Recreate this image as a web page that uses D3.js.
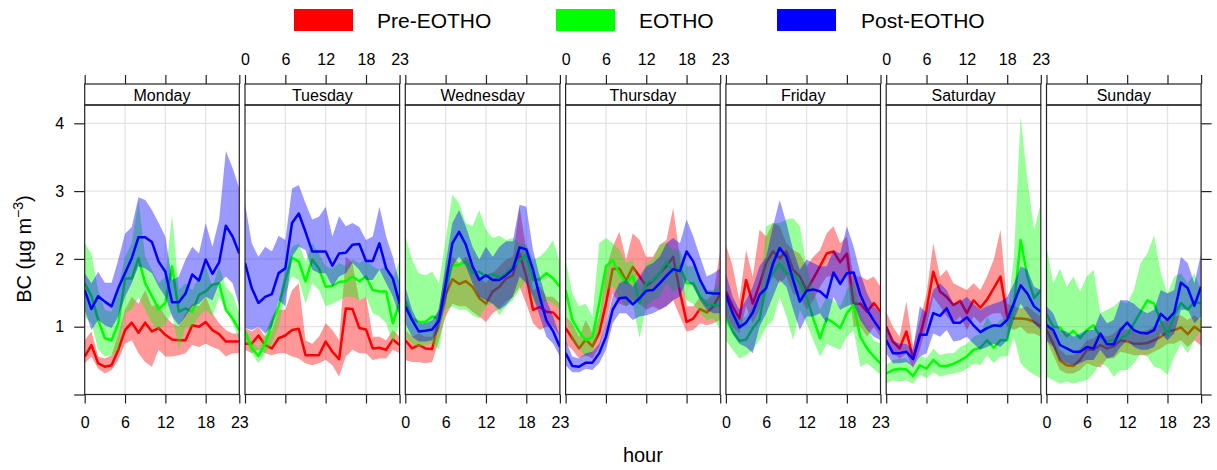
<!DOCTYPE html>
<html>
<head>
<meta charset="utf-8">
<script src="https://cdn.jsdelivr.net/npm/d3@7"></script>
<style>
  body { margin: 0; background: #fff; }
  text { font-family: "Liberation Sans", Arial, sans-serif; fill: #000; }
</style>
</head>
<body>
<svg id="chart" width="1217" height="470"></svg>
<script>
// categories / ticks
const days = ["Monday", "Tuesday", "Wednesday", "Thursday", "Friday", "Saturday", "Sunday"];
const hours = d3.range(24);
const hourTicks = [0, 6, 12, 18, 23];
const yTicks = [0, 1, 2, 3, 4];
const seriesNames = ["Pre-EOTHO", "EOTHO", "Post-EOTHO"];
const seriesColors = ["#ff0000", "#00ff00", "#0000ff"];

// Pre-EOTHO: mean, lower, upper (one row per day, 24 hours)
const preMean = [
  [0.56,0.73,0.46,0.41,0.43,0.66,0.95,1.06,0.91,1.06,0.93,0.98,0.88,0.81,0.80,0.80,1.02,1.00,1.07,0.95,0.89,0.78,0.78,0.78],
  [0.75,0.75,0.87,0.73,0.68,0.83,0.87,0.95,0.97,0.58,0.58,0.58,0.78,0.63,0.52,1.27,1.26,0.98,0.96,0.68,0.69,0.66,0.81,0.73],
  [0.80,0.68,0.73,0.68,0.67,1.10,1.47,1.70,1.63,1.67,1.59,1.42,1.34,1.52,1.59,1.71,1.76,2.08,1.74,1.25,1.29,1.22,1.21,1.10],
  [0.98,0.83,0.68,0.81,0.71,0.91,1.34,1.85,1.86,1.68,1.88,1.74,1.60,1.68,1.79,1.89,2.03,1.52,1.07,1.12,1.26,1.21,1.30,1.49],
  [1.52,1.30,1.12,1.69,1.34,1.62,1.94,2.11,2.01,2.11,1.84,1.74,1.54,1.71,1.89,2.08,2.11,1.95,2.08,1.34,1.34,1.22,1.35,1.22],
  [1.00,0.78,0.68,0.93,0.53,0.85,1.25,1.81,1.52,1.44,1.32,1.38,1.20,1.39,1.28,1.40,1.57,1.74,1.15,1.12,1.12,1.11,1.07,1.00],
  [0.95,0.75,0.50,0.43,0.42,0.51,0.66,0.66,0.73,0.68,0.71,0.80,0.78,0.75,0.75,0.76,0.80,0.85,0.93,0.95,0.99,0.89,1.00,0.93]
];
const preLo = [
  [0.46,0.56,0.38,0.31,0.36,0.51,0.75,0.80,0.61,0.48,0.41,0.66,0.56,0.56,0.58,0.61,0.73,0.70,0.75,0.70,0.66,0.56,0.61,0.61],
  [0.66,0.61,0.66,0.61,0.58,0.61,0.61,0.56,0.53,0.46,0.43,0.46,0.51,0.43,0.26,0.56,0.66,0.61,0.61,0.51,0.53,0.53,0.66,0.61],
  [0.51,0.48,0.48,0.46,0.48,0.80,1.15,1.34,1.30,1.30,1.22,1.15,1.07,1.20,1.27,1.37,1.44,1.59,1.34,1.05,0.95,1.00,1.00,0.85],
  [0.75,0.66,0.53,0.58,0.53,0.70,1.05,1.49,1.34,1.30,1.39,1.34,1.25,1.30,1.25,1.30,1.39,1.15,0.93,0.95,1.05,1.02,1.05,1.10],
  [1.15,1.00,0.90,1.30,1.05,1.25,1.54,1.74,1.64,1.74,1.49,1.44,1.25,1.39,1.59,1.74,1.74,1.64,1.79,1.00,1.00,0.85,1.00,0.85],
  [0.80,0.61,0.53,0.61,0.38,0.66,1.00,1.44,1.30,1.15,1.05,1.15,0.95,1.15,1.05,1.15,1.20,1.20,1.00,0.95,1.00,0.90,0.90,0.85],
  [0.80,0.58,0.36,0.31,0.31,0.36,0.46,0.42,0.40,0.53,0.53,0.63,0.61,0.58,0.58,0.58,0.63,0.68,0.75,0.75,0.80,0.70,0.80,0.72]
];
const preHi = [
  [0.80,0.93,0.56,0.53,0.58,0.90,1.25,1.44,1.34,1.54,1.30,1.34,1.15,1.05,1.00,1.20,1.34,1.30,1.44,1.20,1.05,0.95,0.90,0.90],
  [0.98,0.93,1.00,0.85,0.95,1.25,1.25,1.54,1.64,0.80,0.75,0.85,1.05,0.95,0.80,2.03,1.94,1.39,1.44,0.85,0.85,0.80,0.95,0.85],
  [0.95,0.85,0.90,0.85,0.85,1.30,1.84,2.03,1.94,2.03,1.94,1.74,1.64,1.79,1.89,1.99,2.03,2.77,2.13,1.54,1.59,1.44,1.44,1.34],
  [1.15,1.05,0.85,1.10,0.90,1.15,1.84,2.18,2.40,1.99,2.38,2.28,2.03,2.03,2.21,2.28,2.75,2.03,1.30,1.30,1.44,1.39,1.49,2.13],
  [2.21,1.89,1.39,2.13,1.74,2.43,2.33,2.53,2.48,2.23,2.13,2.08,1.89,2.03,2.13,2.38,2.48,2.23,2.33,1.74,1.74,1.69,1.74,1.59],
  [1.22,1.00,0.85,1.37,0.70,1.10,1.49,2.23,1.74,1.84,1.64,1.59,1.54,1.64,1.54,1.74,1.99,2.43,1.34,1.30,1.27,1.30,1.22,1.15],
  [1.10,0.90,0.66,0.58,0.58,0.68,0.80,0.83,0.90,0.85,0.90,1.00,0.95,0.93,0.93,0.95,1.00,1.05,1.12,1.15,1.17,1.10,1.17,1.10]
];

// EOTHO
const eoMean = [
  [1.64,1.45,1.10,0.83,0.80,1.05,1.71,1.71,2.01,1.64,1.45,1.26,1.35,1.89,1.22,1.27,1.22,1.47,1.52,1.62,1.64,1.25,1.12,0.95],
  [0.93,0.68,0.57,0.75,1.05,1.30,1.69,2.02,1.96,1.67,1.99,1.86,1.59,1.60,1.66,1.67,1.74,1.67,1.74,1.54,1.52,1.52,1.05,1.37],
  [1.39,1.12,1.07,1.07,1.15,1.12,1.59,1.90,1.91,1.96,1.79,1.81,1.74,1.78,1.72,1.79,1.89,1.98,2.06,1.69,1.70,1.79,1.71,1.59],
  [1.54,1.10,0.93,0.80,0.85,1.34,1.89,1.98,1.78,1.64,1.75,1.35,1.64,1.69,1.79,1.96,1.81,1.89,1.64,1.64,1.44,1.32,1.32,1.32],
  [1.12,0.93,0.79,0.81,0.98,1.11,1.62,1.79,1.93,1.78,1.78,1.64,1.44,1.12,0.83,1.12,1.06,0.98,1.20,1.32,0.85,0.68,0.56,0.46],
  [0.31,0.36,0.38,0.37,0.27,0.43,0.38,0.51,0.42,0.42,0.45,0.50,0.56,0.66,0.69,0.80,0.69,0.80,0.80,1.30,2.28,1.74,1.42,1.54],
  [1.19,1.00,0.99,0.86,0.94,0.83,0.95,1.02,0.85,0.78,0.81,0.83,0.88,1.05,1.22,1.39,1.34,1.08,0.88,1.17,1.35,1.25,1.37,1.34]
];
const eoLo = [
  [1.15,1.05,0.66,0.56,0.58,0.66,1.20,1.25,1.44,1.25,1.05,0.95,1.05,1.20,0.66,1.00,1.00,1.15,1.25,1.15,1.44,1.25,1.05,0.80],
  [0.80,0.61,0.46,0.61,0.75,1.00,1.49,1.74,1.69,1.34,1.64,1.54,1.30,1.34,1.39,1.44,1.44,1.39,1.44,1.20,1.15,1.05,0.75,1.05],
  [0.85,0.75,0.70,0.73,0.75,0.66,1.25,1.30,1.25,1.25,1.17,1.12,1.30,1.34,1.17,1.30,1.39,1.54,1.69,1.39,1.30,1.39,1.34,1.25],
  [1.15,0.80,0.66,0.56,0.61,0.95,1.54,1.59,1.44,1.30,1.34,0.83,1.30,1.39,1.44,1.64,1.52,1.59,1.39,1.34,1.20,1.10,1.12,0.95],
  [0.80,0.66,0.53,0.58,0.66,0.80,1.00,1.10,1.44,1.15,0.80,1.25,1.05,0.80,0.56,0.75,0.70,0.66,0.85,0.95,0.41,0.46,0.38,0.29],
  [0.16,0.21,0.19,0.21,0.16,0.29,0.24,0.33,0.26,0.29,0.31,0.33,0.38,0.46,0.43,0.58,0.46,0.56,0.56,0.85,0.46,0.36,0.29,0.24],
  [0.26,0.21,0.16,0.19,0.16,0.19,0.21,0.31,0.46,0.41,0.26,0.36,0.36,0.46,0.61,0.56,0.41,0.38,0.29,0.56,0.75,0.61,0.80,0.95]
];
const eoHi = [
  [2.23,2.08,1.54,1.25,1.22,1.59,2.03,2.23,2.87,2.03,1.84,1.64,1.74,2.65,1.54,1.64,1.54,1.74,1.89,1.59,1.89,1.59,1.47,1.20],
  [0.98,0.80,0.68,0.90,1.15,1.30,1.89,2.18,2.23,1.96,2.23,2.08,1.89,1.86,1.94,1.89,1.99,1.94,1.99,1.89,1.84,1.89,1.69,1.99],
  [2.35,1.99,1.79,1.76,1.81,1.64,2.28,2.95,2.82,2.53,2.48,2.72,2.43,2.31,2.34,2.28,2.31,2.23,2.21,1.99,2.03,2.13,2.28,1.94],
  [1.99,1.49,1.30,1.34,1.15,2.23,2.31,2.23,2.13,1.94,1.99,1.59,1.94,1.99,2.21,2.23,2.13,2.13,1.89,1.89,1.69,1.54,1.54,1.64],
  [1.44,1.25,1.10,1.15,1.30,1.44,2.48,2.53,2.53,2.58,2.60,2.48,1.89,1.54,1.25,1.44,1.39,1.30,1.54,1.69,1.20,1.00,0.80,0.75],
  [0.43,0.51,0.53,0.53,0.41,0.58,0.53,0.68,0.58,0.61,0.61,0.70,0.75,0.85,0.90,1.15,1.00,1.10,1.15,2.03,4.10,3.17,2.43,2.82],
  [2.18,1.64,1.86,1.59,1.74,1.52,1.74,1.84,1.20,1.25,1.30,1.39,1.34,1.54,1.94,2.08,2.35,1.79,1.49,1.74,1.79,1.64,1.79,1.54]
];

// Post-EOTHO
const postMean = [
  [1.54,1.26,1.45,1.37,1.30,1.57,1.79,2.01,2.32,2.32,2.25,1.96,1.81,1.36,1.36,1.49,1.77,1.68,1.99,1.78,1.95,2.49,2.33,2.08],
  [1.94,1.57,1.35,1.44,1.48,1.79,1.86,2.53,2.67,2.40,2.11,2.11,2.11,1.90,2.08,2.09,2.21,2.22,1.97,1.97,2.23,1.86,1.71,1.34],
  [1.30,1.10,0.93,0.94,0.96,1.09,1.62,2.23,2.40,2.21,1.89,1.69,1.76,1.69,1.69,1.76,1.85,2.17,2.14,1.84,1.44,1.09,0.93,0.70],
  [0.61,0.42,0.41,0.47,0.47,0.61,0.85,1.25,1.42,1.43,1.33,1.42,1.53,1.54,1.64,1.75,1.85,1.82,2.11,1.96,1.69,1.50,1.49,1.49],
  [1.47,1.20,0.99,1.06,1.21,1.47,1.57,1.93,2.16,2.03,1.69,1.37,1.53,1.55,1.52,1.43,1.80,1.63,1.79,1.80,1.47,1.25,1.09,0.95],
  [0.80,0.61,0.61,0.63,0.52,0.88,0.88,1.20,1.16,1.27,1.06,1.06,1.14,1.02,0.92,0.98,1.02,1.01,1.10,1.35,1.61,1.49,1.30,1.22],
  [1.02,0.95,0.73,0.68,0.63,0.63,0.70,0.68,0.90,0.74,0.74,0.95,1.06,0.95,0.91,0.90,0.95,1.19,1.10,1.21,1.65,1.57,1.31,1.59]
];
const postLo = [
  [1.25,0.95,1.10,1.02,0.98,1.15,1.44,1.64,1.89,1.86,1.79,1.59,1.44,1.15,1.02,1.15,1.30,1.34,1.44,1.39,1.64,1.74,1.64,1.30],
  [0.98,0.95,1.00,0.90,1.00,1.39,1.30,2.03,2.18,2.13,1.84,1.79,1.79,1.59,1.74,1.79,1.94,1.84,1.69,1.69,1.84,1.64,1.44,1.15],
  [1.05,0.85,0.78,0.78,0.80,0.95,1.34,1.89,2.03,1.89,1.64,1.44,1.39,1.34,1.25,1.32,1.44,1.74,1.64,1.44,1.15,0.85,0.75,0.56],
  [0.43,0.33,0.33,0.38,0.36,0.46,0.66,1.05,1.20,1.20,1.10,1.15,1.17,1.20,1.25,1.30,1.39,1.44,1.69,1.59,1.39,1.25,1.20,1.20],
  [1.15,0.90,0.75,0.70,0.61,1.00,1.20,1.44,1.69,1.59,1.25,0.95,1.15,1.15,1.20,1.05,1.44,1.25,1.30,1.34,1.10,0.95,0.85,0.80],
  [0.61,0.46,0.46,0.48,0.41,0.56,0.61,0.90,0.85,0.95,0.78,0.80,0.85,0.75,0.66,0.70,0.75,0.70,0.80,1.10,1.34,1.20,1.05,0.95],
  [0.80,0.70,0.51,0.46,0.43,0.46,0.51,0.51,0.66,0.53,0.56,0.70,0.80,0.70,0.66,0.66,0.70,0.90,0.80,0.90,1.25,1.25,1.05,1.15]
];
const postHi = [
  [1.79,1.64,1.81,1.65,1.65,1.99,2.37,2.47,2.91,2.87,2.72,2.53,2.33,1.69,1.74,1.99,2.18,2.08,2.53,2.18,2.58,3.59,3.34,3.04],
  [2.82,2.23,2.03,2.18,2.11,2.34,2.28,3.04,3.09,2.82,2.58,2.62,2.77,2.33,2.63,2.48,2.53,2.47,2.28,2.33,2.77,2.33,2.03,1.64],
  [1.59,1.25,1.05,1.05,1.10,1.25,1.94,2.53,2.72,2.48,2.18,1.99,2.18,2.03,2.18,2.26,2.26,2.80,2.77,2.13,1.74,1.39,1.15,0.85],
  [0.80,0.56,0.53,0.61,0.63,0.75,1.05,1.44,1.64,1.69,1.59,1.74,1.89,1.94,2.03,2.23,2.31,2.23,2.58,2.33,2.03,1.74,1.79,1.86],
  [1.79,1.44,1.25,1.39,1.59,1.89,2.03,2.48,2.87,2.53,2.13,1.84,1.99,1.94,1.89,1.89,2.13,2.08,2.48,2.18,1.79,1.49,1.30,1.20],
  [1.05,0.80,0.75,0.75,0.66,1.30,1.20,1.54,1.64,1.54,1.34,1.37,1.44,1.34,1.25,1.30,1.34,1.37,1.44,1.64,1.89,1.84,1.59,1.54],
  [1.30,1.20,0.95,0.93,0.85,0.90,0.95,0.95,1.20,1.05,1.10,1.39,1.39,1.34,1.25,1.20,1.25,1.54,1.49,1.54,2.03,1.94,1.64,2.08]
];

const series = [
  { name: seriesNames[0], color: seriesColors[0], mean: preMean, lo: preLo, hi: preHi },
  { name: seriesNames[1], color: seriesColors[1], mean: eoMean, lo: eoLo, hi: eoHi },
  { name: seriesNames[2], color: seriesColors[2], mean: postMean, lo: postLo, hi: postHi }
];

// layout
const panelLeft = 84.7, panelW = 154.6, panelStep = 160.3;
const stripTop = 84, plotTop = 105, plotBottom = 394.5;
const tickLen = 9;

const svg = d3.select("#chart");

const x = d3.scaleLinear().domain([0, 23]).range([0, panelW]);
const y = d3.scaleLinear().domain([0, 4.27]).range([plotBottom, plotTop]);

const area = d3.area()
  .x((d, i) => x(hours[i]))
  .y0(d => y(d[0]))
  .y1(d => y(d[1]));
const line = d3.line()
  .x((d, i) => x(hours[i]))
  .y(d => y(d));

// legend
const legendX = [294, 556, 777];
const legendTextX = [377, 639, 861];
series.forEach((s, k) => {
  svg.append("rect").attr("x", legendX[k]).attr("y", 9).attr("width", 59).attr("height", 22)
    .attr("fill", s.color);
  svg.append("text").attr("x", legendTextX[k]).attr("y", 27.5).attr("font-size", 21).text(s.name);
});

svg.append("defs").append("clipPath").attr("id", "plotClip")
  .append("rect").attr("x", 0).attr("y", plotTop).attr("width", panelW).attr("height", plotBottom - plotTop);

days.forEach((day, di) => {
  const g = svg.append("g").attr("transform", `translate(${panelLeft + di * panelStep},0)`);

  // grid
  g.append("g").selectAll("line.vg").data([6, 12, 18]).join("line")
    .attr("x1", d => x(d)).attr("x2", d => x(d)).attr("y1", plotTop).attr("y2", plotBottom)
    .attr("stroke", "#e4e4e4").attr("stroke-width", 1.3);
  g.append("g").selectAll("line.hg").data([1, 2, 3, 4]).join("line")
    .attr("x1", 0).attr("x2", panelW).attr("y1", d => y(d)).attr("y2", d => y(d))
    .attr("stroke", "#e4e4e4").attr("stroke-width", 1.3);

  // series: band then line, in group order
  const data = g.append("g").attr("clip-path", "url(#plotClip)");
  series.forEach(s => {
    const band = s.lo[di].map((v, i) => [v, s.hi[di][i]]);
    data.append("path").attr("d", area(band)).attr("fill", s.color).attr("fill-opacity", 0.4);
    data.append("path").attr("d", line(s.mean[di])).attr("fill", "none")
      .attr("stroke", s.color).attr("stroke-width", 2.5).attr("stroke-linejoin", "round");
  });

  // strip
  g.append("rect").attr("x", 0).attr("y", stripTop).attr("width", panelW).attr("height", plotTop - stripTop)
    .attr("fill", "#fff").attr("stroke", "#222").attr("stroke-width", 1.2);
  g.append("text").attr("x", panelW / 2).attr("y", (stripTop + plotTop) / 2 + 6)
    .attr("text-anchor", "middle").attr("font-size", 16).text(day);

  // panel border
  g.append("rect").attr("x", 0).attr("y", plotTop).attr("width", panelW).attr("height", plotBottom - plotTop)
    .attr("fill", "none").attr("stroke", "#222").attr("stroke-width", 1.2);

  // x axes (labels alternate bottom / top)
  const bottom = d3.axisBottom(x).tickValues(hourTicks).tickSize(tickLen).tickPadding(13).tickSizeOuter(0);
  const top = d3.axisTop(x).tickValues(hourTicks).tickSize(tickLen).tickPadding(10).tickSizeOuter(0);
  if (di % 2 === 0) top.tickFormat(""); else bottom.tickFormat("");
  const gb = g.append("g").attr("transform", `translate(0,${plotBottom})`).call(bottom);
  const gt = g.append("g").attr("transform", `translate(0,${stripTop})`).call(top);
  [gb, gt].forEach(a => {
    a.select(".domain").remove();
    a.selectAll("line").attr("stroke", "#222").attr("stroke-width", 1.2);
    a.selectAll("text").attr("font-size", 16).attr("font-family", "Liberation Sans, Arial, sans-serif").attr("fill", "#000");
  });
});

// y axes
const left = d3.axisLeft(y).tickValues(yTicks).tickSize(10.5).tickPadding(10)
  .tickFormat(d => d === 0 ? "" : d);
const gl = svg.append("g").attr("transform", `translate(${panelLeft},0)`).call(left);
const right = d3.axisRight(y).tickValues(yTicks).tickSize(10.5).tickFormat("");
const gr = svg.append("g").attr("transform", `translate(${panelLeft + 6 * panelStep + panelW},0)`).call(right);
[gl, gr].forEach(a => {
  a.select(".domain").remove();
  a.selectAll("line").attr("stroke", "#222").attr("stroke-width", 1.2);
  a.selectAll("text").attr("font-size", 16).attr("font-family", "Liberation Sans, Arial, sans-serif").attr("fill", "#000");
});

// axis titles
const yTitle = svg.append("text").attr("transform", "translate(31,249) rotate(-90)")
  .attr("text-anchor", "middle").attr("font-size", 20);
yTitle.append("tspan").text("BC (µg m");
yTitle.append("tspan").attr("dy", -8).attr("font-size", 14).text("−3");
yTitle.append("tspan").attr("dy", 8).text(")");

svg.append("text").attr("x", panelLeft + (6 * panelStep + panelW) / 2).attr("y", 462)
  .attr("text-anchor", "middle").attr("font-size", 20).text("hour");
</script>
</body>
</html>
